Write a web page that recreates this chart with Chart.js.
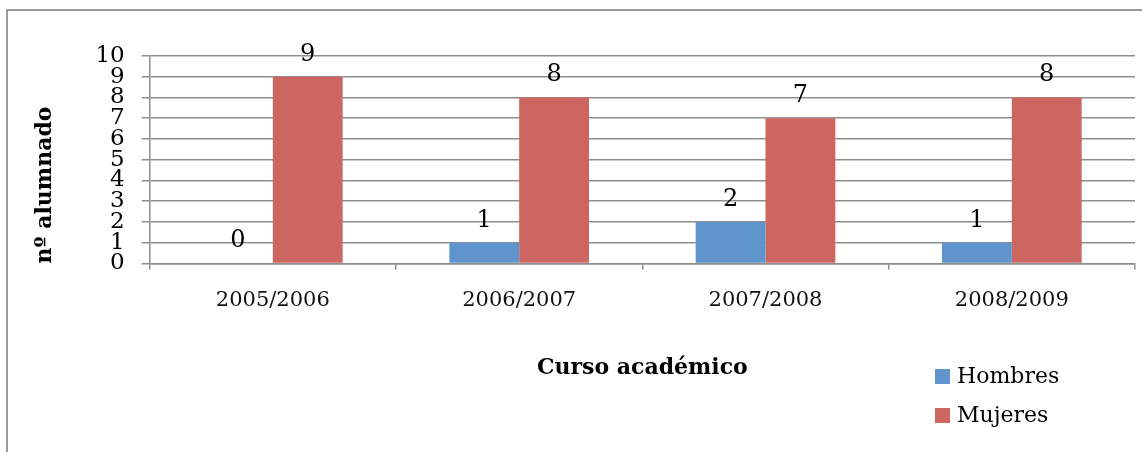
<!DOCTYPE html>
<html>
<head>
<meta charset="utf-8">
<script src="https://cdn.jsdelivr.net/npm/chart.js@4/dist/chart.umd.min.js"></script>
<style>
    html, body { margin: 0; padding: 0; background: #fff; }
    #wrap { width: 1142px; height: 452px; position: relative; }
</style>
</head>
<body>
<div id="wrap"><canvas id="chart"></canvas></div>
<script>
// --- DATA ---
const cursos = ['2005/2006', '2006/2007', '2007/2008', '2008/2009'];
const hombres = [0, 1, 2, 1];
const mujeres = [9, 8, 7, 8];
const yTicks = [0, 1, 2, 3, 4, 5, 6, 7, 8, 9, 10];

const FONT = "'DejaVu Serif', 'Liberation Serif', serif";
const GRID = '#8e8e8e';

// outer frame (only left + top edges are visible in the picture)
const framePlugin = {
    id: 'frame',
    beforeDraw(chart) {
        const ctx = chart.ctx;
        ctx.save();
        ctx.strokeStyle = '#9a9a9a';
        ctx.lineWidth = 2;
        ctx.beginPath();
        ctx.moveTo(7, 460);
        ctx.lineTo(7, 10);
        ctx.lineTo(1150, 10);
        ctx.stroke();
        ctx.restore();
    }
};

// value labels above each bar
const valuesPlugin = {
    id: 'values',
    afterDatasetsDraw(chart) {
        const ctx = chart.ctx;
        ctx.save();
        ctx.font = '24px ' + FONT;
        ctx.fillStyle = '#000';
        ctx.textAlign = 'center';
        ctx.textBaseline = 'alphabetic';
        chart.data.datasets.forEach((ds, i) => {
            chart.getDatasetMeta(i).data.forEach((bar, j) => {
                ctx.fillText(String(ds.data[j]), bar.x, bar.y - 16);
            });
        });
        ctx.restore();
    }
};

// vertical legend, bottom right
const legendPlugin = {
    id: 'sideLegend',
    afterDraw(chart) {
        const ctx = chart.ctx;
        const x = chart.chartArea.right - 200;
        const rows = [376, 415];
        ctx.save();
        ctx.font = '22px ' + FONT;
        ctx.textBaseline = 'middle';
        ctx.textAlign = 'left';
        chart.data.datasets.forEach((ds, i) => {
            ctx.fillStyle = ds.backgroundColor;
            ctx.fillRect(x, rows[i] - 7, 15, 15);
            ctx.fillStyle = '#000';
            ctx.fillText(ds.label, x + 22, rows[i] + 1);
        });
        ctx.restore();
    }
};

new Chart(document.getElementById('chart'), {
    type: 'bar',
    data: {
        labels: cursos,
        datasets: [
            { label: 'Hombres', data: hombres, backgroundColor: '#5f95cc' },
            { label: 'Mujeres', data: mujeres, backgroundColor: '#cd6660' }
        ]
    },
    options: {
        responsive: true,
        maintainAspectRatio: false,
        animation: false,
        layout: { padding: { left: 32, top: 56, right: 7, bottom: 71 } },
        datasets: { bar: { categoryPercentage: 0.567, barPercentage: 1 } },
        plugins: { legend: { display: false }, tooltip: { enabled: false } },
        scales: {
            x: {
                grid: { display: true, drawOnChartArea: false, color: GRID, lineWidth: 1.5, tickLength: 6, offset: true },
                border: { color: GRID, width: 1.5 },
                ticks: { font: { family: FONT, size: 21 }, color: '#111', padding: 19, maxRotation: 0 },
                title: {
                    display: true,
                    text: 'Curso académico',
                    font: { family: FONT, size: 22, weight: 'bold' },
                    color: '#000',
                    padding: { top: 22, bottom: 0 }
                }
            },
            y: {
                min: 0,
                max: 10,
                afterBuildTicks: scale => { scale.ticks = yTicks.map(v => ({ value: v })); },
                grid: { color: GRID, lineWidth: 1.5, tickLength: 8 },
                border: { color: GRID, width: 1.5 },
                ticks: { font: { family: FONT, size: 23 }, color: '#000', padding: 17, autoSkip: false },
                title: {
                    display: true,
                    text: 'nº alumnado',
                    align: 'start',
                    font: { family: FONT, size: 22, weight: 'bold' },
                    color: '#000',
                    padding: { top: 0, bottom: 20 }
                }
            }
        }
    },
    plugins: [framePlugin, valuesPlugin, legendPlugin]
});
</script>
</body>
</html>
